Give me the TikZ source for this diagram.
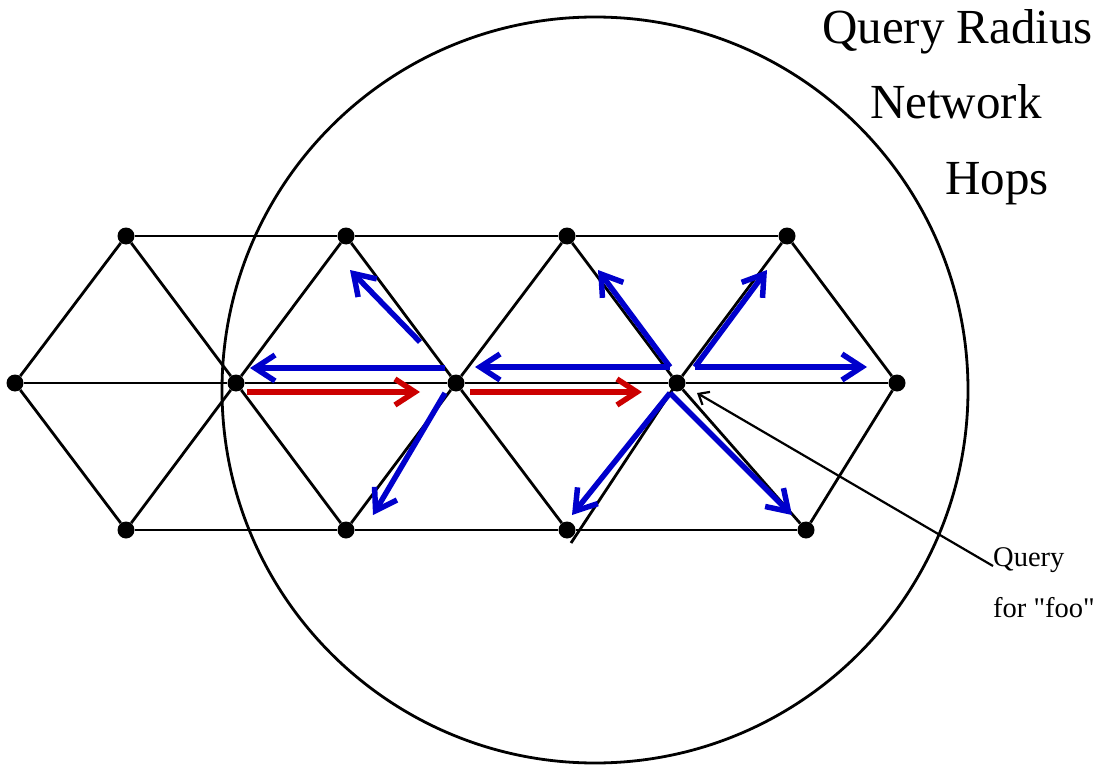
\documentclass[tikz,border=0pt]{standalone}
\usepackage{fontspec}
\setmainfont{Liberation Serif}
\newfontfamily\plainserif{Liberation Serif}
\usetikzlibrary{arrows.meta}
\definecolor{hopblue}{HTML}{0000CC}
\definecolor{hopred}{HTML}{CC0000}
\newcommand{\bigtxt}{\fontsize{49}{49}\selectfont}
\newcommand{\smalltxt}{\plainserif\fontsize{28.5}{29}\selectfont}

\begin{document}
\begin{tikzpicture}[x=1pt, y=-1pt,
    peer/.style={circle, fill=black, inner sep=0pt, minimum size=17pt},
    link/.style={line width=2.8pt},
    hop/.style={line width=5.5pt, -{Straight Barb[length=20pt, width=26pt]}},
    label/.style={inner sep=0pt, anchor=base west}]
  \useasboundingbox (0,0) rectangle (1101,765);
  % peers
  \foreach \n/\x in {1/126, 2/346, 3/567, 4/787}
    \node[peer] (t\n) at (\x,236) {};
  \foreach \n/\x in {1/15, 2/236, 3/456, 4/677, 5/897}
    \node[peer] (m\n) at (\x,383) {};
  \foreach \n/\x in {1/126, 2/346, 3/567, 4/806}
    \node[peer] (b\n) at (\x,530) {};
  \coordinate (b3x) at (571,543);
  % links
  \draw[link] (m1) -- (m2) -- (m3) -- (m4) -- (m5);
  \draw[link] (t1) -- (t2) -- (t3) -- (t4);
  \draw[link] (b1) -- (b2) -- (b3) -- (b4);
  \draw[link] (m1) -- (t1) -- (m2) -- (t2) -- (m3) -- (t3) -- (m4) -- (t4) -- (m5);
  \draw[link] (m1) -- (b1) -- (m2) -- (b2) -- (m3) -- (b3);
  \draw[link] (m4.center) -- (b3x);
  \draw[link] (m4) -- (b4) -- (m5);
  % query radius
  \coordinate (ctr) at (595,390);
  \draw[link] (ctr) circle (373);
  % hops from first forward
  \coordinate (a1) at (420,342); \coordinate (a1e) at (350,270);
  \coordinate (a2) at (445,368); \coordinate (a2e) at (250,368);
  \coordinate (a3) at (445,393); \coordinate (a3e) at (373,515);
  \draw[hop, hopblue] (a1) -- (a1e);
  \draw[hop, hopblue] (a2) -- (a2e);
  \draw[hop, hopblue] (a3) -- (a3e);
  % hops from the origin
  \coordinate (c1) at (670,367); \coordinate (c1e) at (598,270);
  \coordinate (c2e) at (475,367);
  \coordinate (c3) at (670,393); \coordinate (c3e) at (572,515);
  \coordinate (c4e) at (792,515);
  \coordinate (c5) at (695,367); \coordinate (c5e) at (767,270);
  \coordinate (c6e) at (867,367);
  \draw[hop, hopblue] (c1) -- (c1e);
  \draw[hop, hopblue] (c1) -- (c2e);
  \draw[hop, hopblue] (c3) -- (c3e);
  \draw[hop, hopblue] (c3) -- (c4e);
  \draw[hop, hopblue] (c5) -- (c5e);
  \draw[hop, hopblue] (c5) -- (c6e);
  % replies
  \coordinate (r1) at (247,392); \coordinate (r1e) at (420,392);
  \coordinate (r2) at (470,392); \coordinate (r2e) at (642,392);
  \draw[hop, hopred] (r1) -- (r1e);
  \draw[hop, hopred] (r2) -- (r2e);
  % labels
  \node[label, font=\bigtxt] (title1) at (822,44) {Query Radius};
  \node[label, font=\bigtxt] (title2) at (870,119) {Network};
  \node[label, font=\bigtxt] (title3) at (945,194) {Hops};
  \node[label, font=\smalltxt] (qlbl) at (993,566) {Query};
  \node[label, font=\smalltxt] (qlbl2) at (993,617) {for "foo"};
  \coordinate (qtip) at (697,393);
  \draw[line width=2.2pt, -{Straight Barb[length=9pt, width=15pt]}] (qlbl.base west) -- (qtip);
\end{tikzpicture}
\end{document}
